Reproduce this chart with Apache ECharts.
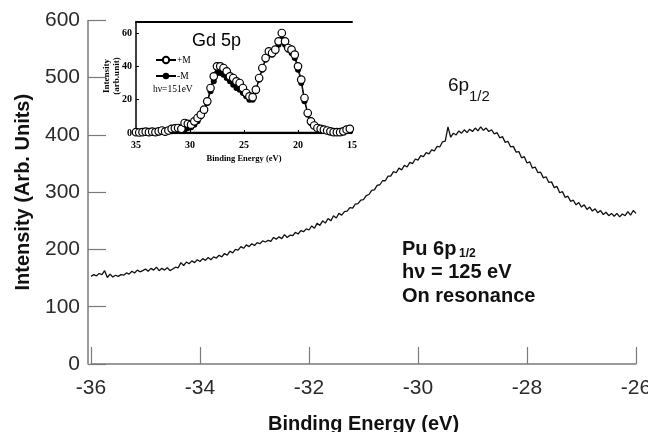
<!DOCTYPE html>
<html>
<head>
<meta charset="utf-8">
<script src="https://cdn.jsdelivr.net/npm/echarts@6/dist/echarts.min.js"></script>
<style>
  html, body { margin: 0; padding: 0; background: #fff; }
  #chart { width: 648px; height: 432px; }
</style>
</head>
<body>
<div id="chart"></div>
<script>
// main spectrum: Pu 6p1/2, hv = 125 eV
const energy = [
  -36.00, -35.95, -35.90, -35.85, -35.80, -35.75, -35.70, -35.65, -35.60, -35.55, -35.50,
  -35.45, -35.40, -35.35, -35.30, -35.25, -35.20, -35.15, -35.10, -35.05, -35.00,
  -34.95, -34.90, -34.85, -34.80, -34.75, -34.70, -34.65, -34.60, -34.55, -34.50,
  -34.45, -34.40, -34.35, -34.30, -34.25, -34.20, -34.15, -34.10, -34.05, -34.00,
  -33.95, -33.90, -33.85, -33.80, -33.75, -33.70, -33.65, -33.60, -33.55, -33.50,
  -33.45, -33.40, -33.35, -33.30, -33.25, -33.20, -33.15, -33.10, -33.05, -33.00,
  -32.95, -32.90, -32.85, -32.80, -32.75, -32.70, -32.65, -32.60, -32.55, -32.50,
  -32.45, -32.40, -32.35, -32.30, -32.25, -32.20, -32.15, -32.10, -32.05, -32.00,
  -31.95, -31.90, -31.85, -31.80, -31.75, -31.70, -31.65, -31.60, -31.55, -31.50,
  -31.45, -31.40, -31.35, -31.30, -31.25, -31.20, -31.15, -31.10, -31.05, -31.00,
  -30.95, -30.90, -30.85, -30.80, -30.75, -30.70, -30.65, -30.60, -30.55, -30.50,
  -30.45, -30.40, -30.35, -30.30, -30.25, -30.20, -30.15, -30.10, -30.05, -30.00,
  -29.95, -29.90, -29.85, -29.80, -29.75, -29.70, -29.65, -29.60, -29.55, -29.50,
  -29.45, -29.40, -29.35, -29.30, -29.25, -29.20, -29.15, -29.10, -29.05, -29.00,
  -28.95, -28.90, -28.85, -28.80, -28.75, -28.70, -28.65, -28.60, -28.55, -28.50,
  -28.45, -28.40, -28.35, -28.30, -28.25, -28.20, -28.15, -28.10, -28.05, -28.00,
  -27.95, -27.90, -27.85, -27.80, -27.75, -27.70, -27.65, -27.60, -27.55, -27.50,
  -27.45, -27.40, -27.35, -27.30, -27.25, -27.20, -27.15, -27.10, -27.05, -27.00,
  -26.95, -26.90, -26.85, -26.80, -26.75, -26.70, -26.65, -26.60, -26.55, -26.50,
  -26.45, -26.40, -26.35, -26.30, -26.25, -26.20, -26.15, -26.10, -26.05, -26.00
];
const intensity = [
  153, 156, 154, 158, 156, 163, 151, 157, 152, 155, 153,
  156, 155, 159, 157, 162, 159, 164, 161, 163, 166,
  162, 167, 164, 169, 163, 167, 164, 168, 163, 166,
  169, 168, 177, 172, 178, 175, 180, 177, 182, 179,
  184, 181, 186, 182, 187, 185, 190, 187, 193, 190,
  197, 194, 200, 199, 205, 202, 208, 205, 210, 207,
  212, 210, 215, 213, 216, 214, 221, 218, 222, 219,
  226, 221, 225, 224, 230, 227, 233, 231, 236, 234,
  241, 237, 246, 242, 250, 246, 254, 250, 259, 255,
  263, 260, 266, 267, 273, 272, 279, 280, 286, 287,
  294, 296, 303, 304, 312, 313, 320, 320, 328, 328,
  336, 334, 342, 339, 347, 344, 352, 350, 358, 356,
  364, 362, 369, 367, 374, 372, 380, 379, 388, 389,
  414, 396, 403, 400, 407, 403, 409, 404, 410, 406,
  412, 407, 414, 408, 412, 406, 409, 402, 404, 395,
  397, 387, 389, 379, 380, 370, 371, 360, 362, 351,
  353, 342, 344, 334, 335, 325, 327, 317, 318, 308,
  310, 299, 301, 291, 293, 284, 286, 278, 282, 274,
  278, 270, 274, 267, 271, 264, 268, 261, 265, 259,
  263, 258, 263, 257, 262, 259, 266, 260, 268, 263
];

// inset: Gd 5p, hv = 151 eV
const gdEnergy = [
  35.0, 34.7, 34.4, 34.1, 33.8, 33.5, 33.2, 32.9, 32.6, 32.3, 32.0, 31.7, 31.4, 31.1,
  30.8, 30.5, 30.2, 29.9, 29.6, 29.3, 29.0, 28.7, 28.4, 28.1, 27.8, 27.5, 27.2, 26.9,
  26.6, 26.3, 26.0, 25.7, 25.4, 25.1, 24.8, 24.5, 24.2, 23.9, 23.6, 23.3, 23.0, 22.7,
  22.4, 22.1, 21.8, 21.5, 21.2, 20.9, 20.6, 20.3, 20.0, 19.7, 19.4, 19.1, 18.8, 18.5,
  18.2, 17.9, 17.6, 17.3, 17.0, 16.7, 16.4, 16.1, 15.8, 15.5, 15.2
];
const gdPlus = [
  0.5, 0.3, 0.5, 0.8, 0.5, 0.8, 0.5, 1.0, 1.5, 0.8, 1.5, 2.5, 2.8, 3.0,
  2.5, 6, 5.5, 5, 7, 9, 11, 14, 19, 27, 34, 40, 40, 39,
  37, 34, 33, 31, 30, 27, 24, 22, 21.5, 26, 33, 39, 45, 49,
  48, 50, 55, 60, 55, 51, 50, 47, 40, 32, 21, 12, 7, 4.5,
  3, 2.5, 2, 1.5, 1, 0.5, 0.5, 0.5, 1, 2, 2.5
];
const gdMinus = [
  0.3, 0.3, 0.5, 0.3, 0.5, 0.3, 0.5, 0.5, 0.8, 0.5, 0.8, 1.0, 1.2, 1.5,
  1.5, 2, 3, 3.5, 5, 7, 10, 13, 18, 25, 31, 36, 36, 35,
  33, 31, 29, 27, 26, 24, 22, 20, 20, 25, 32, 38, 44, 47,
  47, 49, 53, 56, 53, 50, 48, 45, 38, 30, 19, 11, 6, 4,
  2.5, 2, 1.5, 1, 0.8, 0.5, 0.5, 0.5, 0.8, 1.5, 2
];
const gdBaseEnergy = [31.5, 15];
const gdBaseValue = [0, 0];

const yTicks = { min: 0, max: 600, interval: 100 };
const xTicks = { min: -36, max: -26, interval: 2 };

const zip = (xs, ys) => xs.map((x, i) => [x, ys[i]]);

const chart = echarts.init(document.getElementById('chart'), null, { renderer: 'canvas' });

const sans = '"Liberation Sans", Arial, sans-serif';
const serif = '"Liberation Serif", "Times New Roman", serif';
const axisGray = '#7a7a7a';

const option = {
  animation: false,
  backgroundColor: '#fff',
  grid: [
    { left: 91, right: 12, top: 20.4, bottom: 68, outerBoundsMode: 'none', containLabel: false },
    { left: 136, top: 22, width: 216, height: 111, outerBoundsMode: 'none', containLabel: false }
  ],
  xAxis: [
    {
      gridIndex: 0, type: 'value', min: xTicks.min, max: xTicks.max, interval: xTicks.interval,
      offset: 3,
      axisLine: { lineStyle: { color: axisGray, width: 1.5 } },
      axisTick: { inside: true, length: 17, lineStyle: { color: axisGray, width: 1.2 } },
      axisLabel: { fontSize: 21, fontFamily: sans, color: '#2a2a2a', margin: 11 },
      splitLine: { show: false },
      name: 'Binding Energy (eV)', nameLocation: 'middle', nameGap: 47,
      nameTextStyle: { fontSize: 20, fontWeight: 'bold', fontFamily: sans, color: '#111' }
    },
    {
      gridIndex: 1, type: 'value', min: 15, max: 35, interval: 5, inverse: true,
      offset: 3,
      axisLine: { lineStyle: { color: '#000', width: 1.5 } },
      axisTick: { inside: true, length: 3, lineStyle: { color: '#000' } },
      axisLabel: { fontSize: 10, fontFamily: serif, fontWeight: 'bold', color: '#000', margin: 4 },
      splitLine: { show: false },
      name: 'Binding Energy (eV)', nameLocation: 'middle', nameGap: 18,
      nameTextStyle: { fontSize: 8.5, fontFamily: serif, fontWeight: 'bold', color: '#000' }
    },
    {
      gridIndex: 1, type: 'value', min: 15, max: 35, inverse: true, position: 'top',
      axisLine: { lineStyle: { color: '#000', width: 2 } },
      axisTick: { show: false }, axisLabel: { show: false }, splitLine: { show: false }
    }
  ],
  yAxis: [
    {
      gridIndex: 0, type: 'value', min: yTicks.min, max: yTicks.max, interval: yTicks.interval,
      offset: 3,
      axisLine: { show: true, lineStyle: { color: axisGray, width: 1.5 } },
      axisTick: { show: true, inside: true, length: 18, lineStyle: { color: axisGray, width: 1.2 } },
      axisLabel: { fontSize: 21, fontFamily: sans, color: '#2a2a2a', margin: 8 },
      splitLine: { show: false },
      name: 'Intensity (Arb. Units)', nameLocation: 'middle', nameGap: 55,
      nameTextStyle: { fontSize: 20, fontWeight: 'bold', fontFamily: sans, color: '#111' }
    },
    {
      gridIndex: 1, type: 'value', min: 0, max: 66.6, interval: 20,
      axisLine: { show: true, lineStyle: { color: '#000', width: 1.5 } },
      axisTick: { show: true, inside: true, length: 3, lineStyle: { color: '#000' } },
      axisLabel: {
        fontSize: 10, fontFamily: serif, fontWeight: 'bold', color: '#000', margin: 4,
        showMaxLabel: false
      },
      splitLine: { show: false }
    }
  ],
  legend: {
    data: ['+M', '-M'],
    orient: 'vertical', left: 150, top: 50,
    itemWidth: 20, itemHeight: 8, itemGap: 6,
    textStyle: { fontSize: 9.5, fontFamily: serif, color: '#000', padding: [0, 0, 0, -4] }
  },
  series: [
    {
      name: 'Pu 6p', type: 'line', xAxisIndex: 0, yAxisIndex: 0,
      data: zip(energy, intensity),
      showSymbol: false, symbol: 'none',
      lineStyle: { color: '#111', width: 1.3 }
    },
    {
      name: 'base', type: 'line', xAxisIndex: 1, yAxisIndex: 1,
      data: zip(gdBaseEnergy, gdBaseValue),
      symbol: 'none', lineStyle: { color: '#000', width: 2.5 }
    },
    {
      name: '-M', type: 'line', xAxisIndex: 1, yAxisIndex: 1,
      data: zip(gdEnergy, gdMinus),
      symbol: 'circle', symbolSize: 6,
      itemStyle: { color: '#000' },
      lineStyle: { color: '#000', width: 1 }
    },
    {
      name: '+M', type: 'line', xAxisIndex: 1, yAxisIndex: 1,
      data: zip(gdEnergy, gdPlus),
      symbol: 'circle', symbolSize: 7.5,
      itemStyle: { color: '#fff', borderColor: '#000', borderWidth: 1.2 },
      lineStyle: { color: '#000', width: 1 }
    }
  ],
  graphic: [
    { type: 'text', style: { x: 448, y: 86, text: '6p', font: '19px ' + sans, fill: '#111', verticalAlign: 'middle' } },
    { type: 'text', style: { x: 469, y: 97, text: '1/2', font: '15px ' + sans, fill: '#111', verticalAlign: 'middle' } },
    { type: 'text', style: { x: 402, y: 249, text: 'Pu 6p', font: 'bold 20px ' + sans, fill: '#111', verticalAlign: 'middle' } },
    { type: 'text', style: { x: 459, y: 254, text: '1/2', font: 'bold 12px ' + sans, fill: '#111', verticalAlign: 'middle' } },
    { type: 'text', style: { x: 402, y: 272, text: 'h\u03BD = 125 eV', font: 'bold 20px ' + sans, fill: '#111', verticalAlign: 'middle' } },
    { type: 'text', style: { x: 402, y: 296, text: 'On resonance', font: 'bold 20px ' + sans, fill: '#111', verticalAlign: 'middle' } },
    { type: 'text', style: { x: 192, y: 41, text: 'Gd 5p', font: '18px ' + sans, fill: '#000', verticalAlign: 'middle' } },
    { type: 'text', style: { x: 153, y: 89, text: 'h\u03BD=151eV', font: '9.5px ' + serif, fill: '#000', verticalAlign: 'middle' } },
    {
      type: 'text', x: 112, y: 76, rotation: Math.PI / 2,
      style: {
        x: 0, y: 0, text: 'Intensity\n(arb.unit)', font: 'bold 9px ' + serif, fill: '#000',
        align: 'center', verticalAlign: 'middle', lineHeight: 10
      }
    }
  ]
};

chart.setOption(option);
</script>
</body>
</html>
